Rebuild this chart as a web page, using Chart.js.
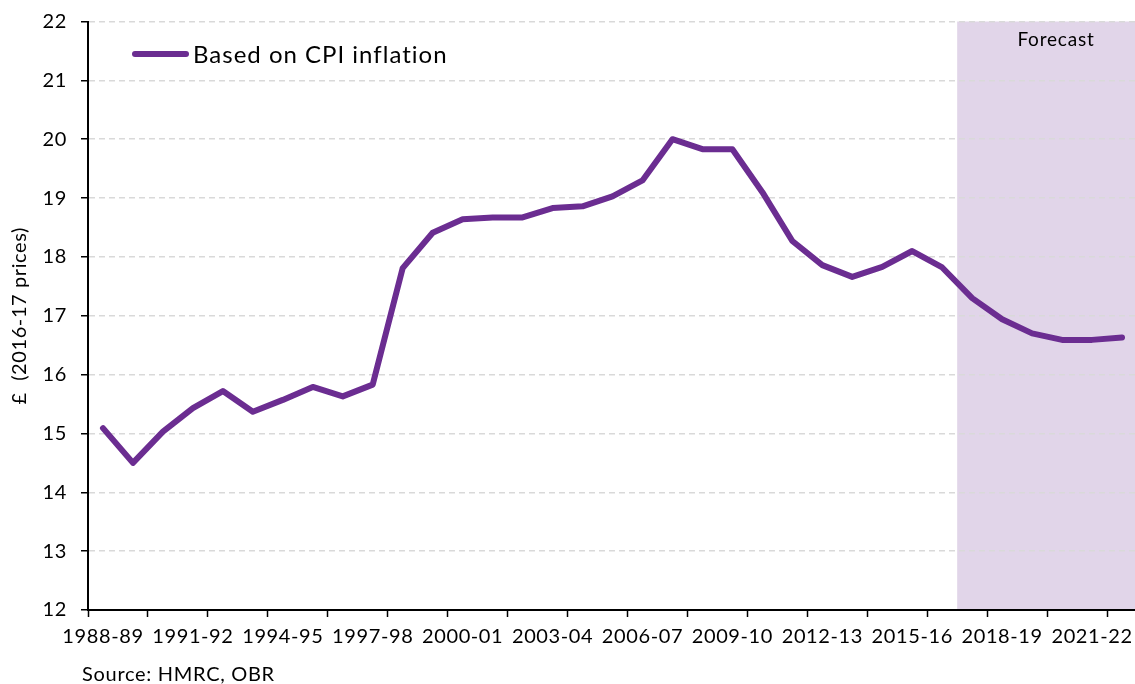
<!DOCTYPE html>
<html>
<head>
<meta charset="utf-8">
<script src="https://cdn.jsdelivr.net/npm/chart.js@4/dist/chart.umd.min.js"></script>
<style>
  html, body { margin: 0; padding: 0; background: #fff; overflow: hidden; }
  #wrap { width: 1135px; height: 684px; overflow: hidden; }
</style>
</head>
<body>
<div id="wrap"><canvas id="chart" width="1137" height="684"></canvas></div>
<script>
const years = ['1988-89', '1989-90', '1990-91', '1991-92', '1992-93', '1993-94', '1994-95',
    '1995-96', '1996-97', '1997-98', '1998-99', '1999-00', '2000-01', '2001-02', '2002-03',
    '2003-04', '2004-05', '2005-06', '2006-07', '2007-08', '2008-09', '2009-10', '2010-11',
    '2011-12', '2012-13', '2013-14', '2014-15', '2015-16', '2016-17', '2017-18', '2018-19',
    '2019-20', '2020-21', '2021-22', '2022-23'];
const cpiBased = [15.09, 14.50, 15.03, 15.43, 15.72, 15.37, 15.57, 15.79, 15.63, 15.83,
    17.81, 18.41, 18.64, 18.67, 18.67, 18.83, 18.86, 19.03, 19.30, 20.00,
    19.83, 19.83, 19.10, 18.27, 17.86, 17.66, 17.83, 18.10, 17.82, 17.30,
    16.94, 16.70, 16.59, 16.59, 16.63];
const yTicks = [12, 13, 14, 15, 16, 17, 18, 19, 20, 21, 22];
const forecastStart = '2017-18';

const FONT = 'Lato, "DejaVu Sans", sans-serif';
const PURPLE = '#6b2d91';

// shaded forecast band, drawn under the grid
const forecastBand = {
    id: 'forecastBand',
    beforeDraw(chart) {
        const { ctx, chartArea, scales: { x } } = chart;
        // the reference font is wider than Lato, spread letters a bit
        ctx.letterSpacing = '0.6px';
        const i = years.indexOf(forecastStart);
        const left = (x.getPixelForValue(i - 1) + x.getPixelForValue(i)) / 2;
        ctx.save();
        ctx.fillStyle = '#e1d5e9';
        ctx.fillRect(left, chartArea.top, chartArea.right - left, chartArea.bottom - chartArea.top);
        ctx.restore();
    },
    afterDraw(chart) {
        const { ctx } = chart;
        ctx.save();
        ctx.fillStyle = '#000';
        ctx.letterSpacing = '0.8px';
        ctx.font = '19px ' + FONT;
        ctx.textAlign = 'center';
        ctx.textBaseline = 'middle';
        ctx.fillText('Forecast', 1056, 40);

        // legend
        ctx.strokeStyle = PURPLE;
        ctx.lineWidth = 6;
        ctx.lineCap = 'round';
        ctx.beginPath();
        ctx.moveTo(135, 54);
        ctx.lineTo(186, 54);
        ctx.stroke();
        ctx.letterSpacing = '1px';
        ctx.font = '24px ' + FONT;
        ctx.textAlign = 'left';
        ctx.fillText(chart.data.datasets[0].label, 193, 55);

        // source
        ctx.letterSpacing = '0.7px';
        ctx.font = '20px ' + FONT;
        ctx.fillText('Source: HMRC, OBR', 82, 675);
        ctx.restore();
    }
};

new Chart(document.getElementById('chart'), {
    type: 'line',
    data: {
        labels: years,
        datasets: [{
            label: 'Based on CPI inflation',
            data: cpiBased,
            borderColor: PURPLE,
            borderWidth: 6,
            pointRadius: 0,
            tension: 0,
            borderJoinStyle: 'round',
            borderCapStyle: 'round'
        }]
    },
    options: {
        responsive: false,
        animation: false,
        devicePixelRatio: 1,
        layout: { padding: { top: 21.5, left: 0, right: 0, bottom: 0 } },
        plugins: { legend: { display: false }, tooltip: { enabled: false } },
        scales: {
            x: {
                offset: true,
                grid: {
                    offset: true,
                    drawOnChartArea: false,
                    drawTicks: true,
                    tickLength: 7,
                    tickWidth: 1.5,
                    tickColor: (c) => (c.index % 2 === 0 ? '#000' : 'rgba(0,0,0,0)')
                },
                border: { color: '#000', width: 2 },
                ticks: {
                    autoSkip: false,
                    maxRotation: 0,
                    minRotation: 0,
                    padding: 8,
                    color: '#000',
                    font: { family: FONT, size: 20 },
                    callback: (v, i) => (i % 3 === 0 ? years[i] : '')
                },
                afterFit: (s) => { s.height = 74; s.paddingLeft = 0; s.paddingRight = 0; }
            },
            y: {
                min: yTicks[0],
                max: yTicks[yTicks.length - 1],
                afterBuildTicks: (s) => { s.ticks = yTicks.map(v => ({ value: v })); },
                grid: {
                    color: '#d9d9d9',
                    lineWidth: 1.5,
                    tickColor: '#000',
                    tickLength: 7,
                    tickWidth: 1.5
                },
                border: { color: '#000', width: 2, dash: [6, 4] },
                ticks: {
                    padding: 14,
                    color: '#000',
                    font: { family: FONT, size: 20 }
                },
                title: {
                    display: true,
                    text: '£  (2016-17 prices)',
                    color: '#000',
                    font: { family: FONT, size: 20 },
                    padding: { top: 8, bottom: 0 }
                },
                afterFit: (s) => { s.width = 88; s.paddingTop = 0; s.paddingBottom = 0; }
            }
        }
    },
    plugins: [forecastBand]
});
</script>
</body>
</html>
